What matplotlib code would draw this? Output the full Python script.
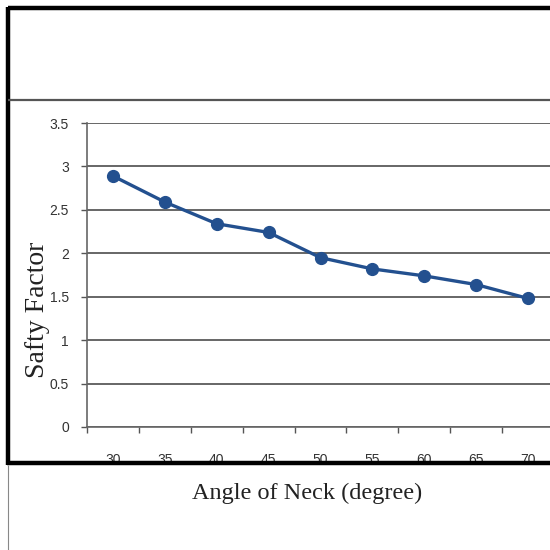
import matplotlib
matplotlib.use('Agg')
import matplotlib.pyplot as plt
from matplotlib.lines import Line2D

angles = ['30', '35', '40', '45', '50', '55', '60', '65', '70']
safety = [2.89, 2.59, 2.34, 2.24, 1.95, 1.82, 1.74, 1.64, 1.48]
yticks = [0, 0.5, 1, 1.5, 2, 2.5, 3, 3.5]
ytick_labels = ['0', '0.5', '1', '1.5', '2', '2.5', '3', '3.5']

W = H = 550.0
fig = plt.figure(figsize=(5.5, 5.5), dpi=100)
fig.patch.set_facecolor('white')

# plot area in pixels: left 87, right 554 (runs off the picture), top 123, bottom 427
ax = fig.add_axes([87 / W, 1 - 427 / H, (554 - 87) / W, (427 - 123) / H])
ax.set_facecolor('none')

x = list(range(len(angles)))
ax.plot(x, safety, color='#23508f', lw=2.4, marker='o', ms=8.5, zorder=3)

ax.set_xlim(-0.5, len(angles) - 0.5)
ax.set_ylim(0, 3.5)
ax.set_yticks(yticks)
ax.set_yticklabels(ytick_labels)
ax.set_xticks(x)
ax.set_xticklabels(angles)
ax.set_xticks([i - 0.5 for i in range(len(angles) + 1)], minor=True)

tick_font = ['Liberation Sans Narrow', 'Liberation Sans', 'DejaVu Sans']
for lab in ax.get_xticklabels() + ax.get_yticklabels():
    lab.set_family(tick_font)
    lab.set_fontsize(10)
    lab.set_color('#333333')

ax.tick_params(axis='x', which='major', length=0, pad=19)
ax.tick_params(axis='x', which='minor', length=4, width=1, color='#555555', direction='out')
ax.tick_params(axis='y', length=4, width=1, color='#555555', direction='out', pad=9)

ax.yaxis.grid(True, color='#666666', lw=1.4)
ax.set_axisbelow(True)
for s in ['top', 'right']:
    ax.spines[s].set_visible(False)
ax.spines['left'].set_color('#666666')
ax.spines['bottom'].set_color('#666666')
ax.spines['left'].set_linewidth(1.2)
ax.spines['bottom'].set_linewidth(1.2)

# frame of the slide
def fline(x0, y0, x1, y1, color, lw):
    fig.add_artist(Line2D([x0 / W, x1 / W], [1 - y0 / H, 1 - y1 / H],
                          color=color, lw=lw, solid_capstyle='butt'))

fline(8, 8, 560, 8, 'black', 3.2)
fline(8, 6.5, 8, 465, 'black', 3.2)
fline(6.5, 463, 560, 463, 'black', 3.2)
fline(8, 100, 560, 100, '#555555', 1.6)
fline(8, 465, 8, 550, '#888888', 0.8)

serif = ['Liberation Serif', 'DejaVu Serif']
fig.text(37 / W, 1 - 310 / H, 'Safty Factor', rotation=90, ha='center', va='center',
         fontsize=20, family=serif, color='#222222')
fig.text(307 / W, 1 - 493 / H, 'Angle of Neck (degree)', ha='center', va='center',
         fontsize=17.5, family=serif, color='#222222')

fig.savefig('out.png', dpi=100)
